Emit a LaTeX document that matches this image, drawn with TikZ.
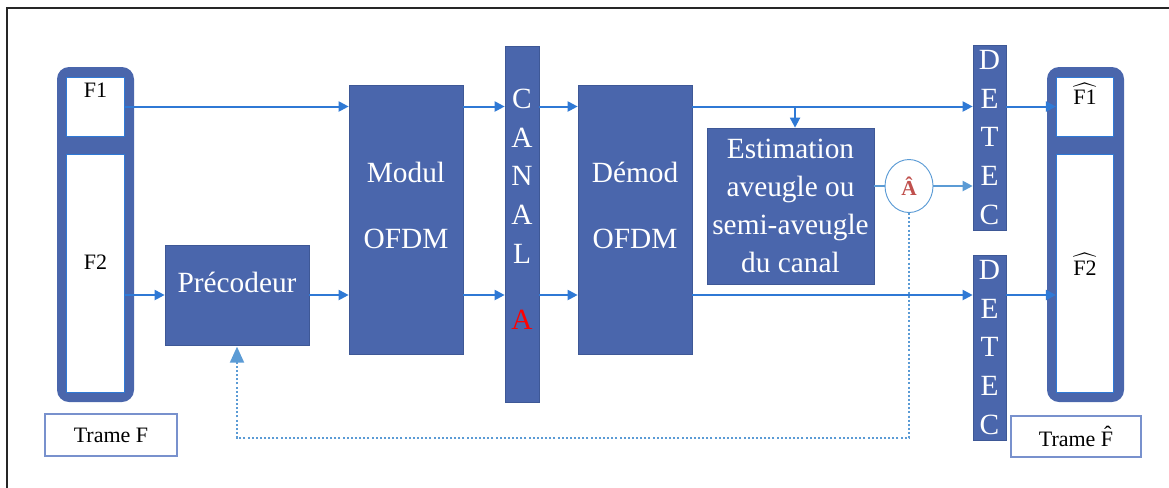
\documentclass[tikz,border=0pt]{standalone}
\usepackage{amsmath}
\usepackage{fontspec}
\setmainfont{Liberation Serif}
\usetikzlibrary{arrows.meta,shapes.geometric}

\definecolor{blocbleu}{RGB}{74,102,172}
\definecolor{blocbord}{RGB}{62,88,150}
\definecolor{flechebleu}{RGB}{47,121,213}
\definecolor{clair}{RGB}{91,155,213}
\definecolor{trameb}{RGB}{120,145,205}
\definecolor{rouille}{RGB}{192,80,77}

\tikzset{
  bloc/.style={draw=blocbord,line width=0.5pt,fill=blocbleu,text=white,inner sep=0pt,
    font=\fontsize{22}{28.5}\selectfont,align=center},
  lettres/.style={bloc,font=\fontsize{22}{29}\selectfont},
  cadre/.style={fill=blocbleu,rounded corners=9pt,minimum width=57.75pt,minimum height=251.25pt,inner sep=0pt},
  cellule/.style={fill=white,draw=flechebleu,line width=0.6pt,minimum width=43pt,inner sep=0pt},
  etiq/.style={draw=trameb,line width=0.9pt,fill=white,font=\fontsize{16.5}{20}\selectfont,inner sep=0pt},
  fleche/.style={draw=flechebleu,line width=1.5pt,-{Triangle[length=7.5pt,width=7.5pt]}},
  flecheclair/.style={draw=clair,line width=1.5pt,-{Triangle[length=7.5pt,width=7.5pt]}},
  retour/.style={draw=clair,line width=1.5pt,dash pattern=on 1.5pt off 1.6pt,
    -{Triangle[length=12pt,width=10.5pt,fill=clair,sep=1pt]}}
}

\begin{document}
\begin{tikzpicture}[x=0.75pt,y=-0.75pt]
\useasboundingbox (0,0) rectangle (1169,487);
\draw[line width=1pt,black!85] (7,8) rectangle (1200,520);

% trame F
\node[cadre] (trame) at (95.5,234.5) {};
\node[cellule,minimum height=44.25pt,
  label={[font=\fontsize{16.5}{20}\selectfont,yshift=12.4pt]center:F1}] (f1) at (95.5,106.5) {};
\node[cellule,minimum height=178.5pt,
  label={[font=\fontsize{16.5}{20}\selectfont,yshift=8pt]center:F2}] (f2) at (95.5,273) {};
\node[etiq,minimum width=99pt,minimum height=31.5pt] (trameF) at (111,435) {Trame F};

% chaine
\node[bloc,minimum width=108pt,minimum height=75pt,
  label={[text=white,font=\fontsize{22}{28.5}\selectfont,yshift=9.75pt]center:Précodeur}] (precodeur) at (237,295) {};
\node[bloc,minimum width=85.5pt,minimum height=201.75pt,
  label={[text=white,align=center,font=\fontsize{22}{28.5}\selectfont,yshift=10.9pt]center:{Modul\\[21pt]OFDM}}] (modul) at (406,219.5) {};
\node[bloc,minimum width=25.5pt,minimum height=267pt,
  label={[text=white,align=center,font=\fontsize{22}{29}\selectfont,yshift=11pt]center:{C\\A\\N\\A\\L\\[21pt]\textcolor{red}{A}}}] (canal) at (522,224) {};
\node[bloc,minimum width=85.5pt,minimum height=201.75pt,
  label={[text=white,align=center,font=\fontsize{22}{28.5}\selectfont,yshift=10.9pt]center:{Démod\\[21pt]OFDM}}] (demod) at (635,219.5) {};
\node[bloc,minimum width=125.25pt,minimum height=117pt] (estim) at (790.5,206)
  {Estimation\\aveugle ou\\semi-aveugle\\du canal};
\node[ellipse,draw=clair,line width=0.7pt,fill=white,minimum width=36pt,minimum height=39.75pt,
  inner sep=0pt,text=rouille,font=\fontsize{16}{18}\selectfont\bfseries] (chapeau) at (909,186) {Â};
\node[lettres,minimum width=24.75pt,minimum height=138.75pt] (detec1) at (989.5,137.5) {D\\E\\T\\E\\C};
\node[lettres,minimum width=24.75pt,minimum height=138.75pt] (detec2) at (989.5,347.5) {D\\E\\T\\E\\C};

% trame F chapeau
\node[cadre] (trameR) at (1085.5,234.5) {};
\node[cellule,minimum height=44.25pt,
  label={[font=\fontsize{16.5}{20}\selectfont,yshift=10pt]center:$\widehat{\text{F1}}$}] (g1) at (1085,107) {};
\node[cellule,minimum height=178.5pt,
  label={[font=\fontsize{16.5}{20}\selectfont,yshift=7pt]center:$\widehat{\text{F2}}$}] (g2) at (1085,273.5) {};
\node[etiq,minimum width=97.5pt,minimum height=30.75pt] (trameG) at (1076,436.5) {Trame \^F};

\coordinate (bas) at (909,438);

\draw[fleche] (f1.east) -- (f1.east -| modul.west);
\draw[fleche] (precodeur.west -| f2.east) -- (precodeur.west);
\draw[fleche] (precodeur.east) -- (precodeur.east -| modul.west);
\draw[fleche] (f1.east -| modul.east) -- (f1.east -| canal.west);
\draw[fleche] (precodeur.east -| modul.east) -- (precodeur.east -| canal.west);
\draw[fleche] (f1.east -| canal.east) -- (f1.east -| demod.west);
\draw[fleche] (precodeur.east -| canal.east) -- (precodeur.east -| demod.west);
\draw[fleche] (f1.east -| demod.east) -- (f1.east -| detec1.west);
\draw[fleche] ([xshift=3.4pt]estim.north |- f1.east) -- ([xshift=3.4pt]estim.north);
\draw[fleche] (precodeur.east -| demod.east) -- (precodeur.east -| detec2.west);
\draw[draw=clair,line width=1.5pt] (chapeau.west -| estim.east) -- (chapeau.west);
\draw[flecheclair] (chapeau.east) -- (chapeau.east -| detec1.west);
\draw[fleche] (f1.east -| detec1.east) -- (f1.east -| g1.west);
\draw[fleche] (precodeur.east -| detec2.east) -- (precodeur.east -| g2.west);
\draw[retour] (chapeau.south) -- (bas) -| (precodeur.south);
\end{tikzpicture}
\end{document}
